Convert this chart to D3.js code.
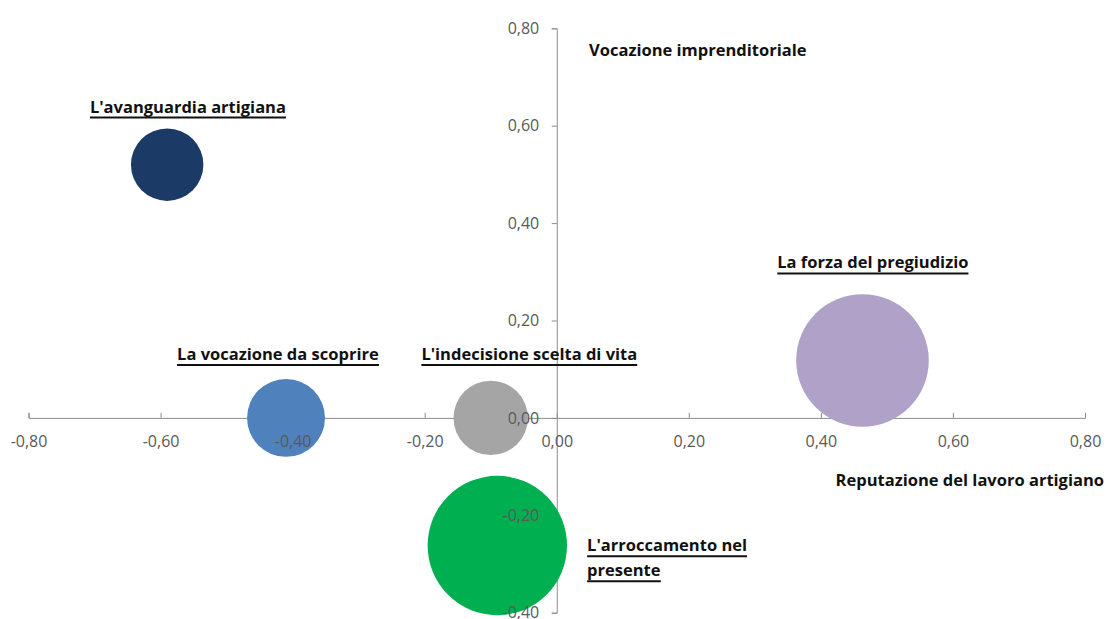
<!DOCTYPE html>
<html>
<head>
<meta charset="utf-8">
<script src="https://cdn.jsdelivr.net/npm/d3@7"></script>
<style>
  body { margin: 0; background: #fff; }
  svg { display: block; }
  .tick text { font-family: "Open Sans", sans-serif; font-size: 16px; fill: #595959; }
  .lbl { font-family: "Open Sans", sans-serif; font-weight: bold; font-size: 16.5px; fill: #111; }
</style>
</head>
<body>
<div id="chart"></div>
<script>
// cluster data
var clusters = ["L'avanguardia artigiana", "La vocazione da scoprire", "L'indecisione scelta di vita", "La forza del pregiudizio", "L'arroccamento nel presente"];
var xValues = [-0.59, -0.41, -0.10, 0.463, -0.09];
var yValues = [0.52, 0.00, 0.00, 0.118, -0.262];
var sizes = [10.8, 12.5, 11.4, 36.2, 40.0];
var colors = ["#1b3a66", "#4f81bd", "#a5a5a5", "#b0a1c8", "#00b050"];

var xTicks = [-0.8, -0.6, -0.4, -0.2, 0, 0.2, 0.4, 0.6, 0.8];
var yTicks = [-0.4, -0.2, 0, 0.2, 0.4, 0.6, 0.8];

var xTitle = "Reputazione del lavoro artigiano";
var yTitle = "Vocazione imprenditoriale";

// label placement (data coords of the text baseline, left edge) - kept apart from data
var labelPos = [
	{x: -0.707, y: 0.627, lines: ["L'avanguardia artigiana"]},
	{x: -0.575, y: 0.119, lines: ["La vocazione da scoprire"]},
	{x: -0.205, y: 0.119, lines: ["L'indecisione scelta di vita"]},
	{x: 0.334, y: 0.307, lines: ["La forza del pregiudizio"]},
	{x: 0.046, y: -0.274, lines: ["L'arroccamento nel", "presente"]}
];

var W = 1109, H = 619;
var svg = d3.select("#chart").append("svg")
	.attr("width", W)
	.attr("height", H);

var x = d3.scaleLinear().domain([-0.8, 0.8]).range([28.5, 1085]);
var y = d3.scaleLinear().domain([-0.4, 0.8]).range([612.7, 28.3]);
var r = d3.scaleSqrt().domain([0, 40]).range([0, 69.7]);

var loc = d3.formatLocale({decimal: ",", thousands: ".", grouping: [3], currency: ["", "€"], minus: "-"});
var fmt = loc.format(".2f");

// axis lines first (no labels)
var xAxisLines = svg.append("g")
	.attr("transform", "translate(0," + y(0) + ")")
	.call(d3.axisTop(x).tickValues(xTicks).tickSize(5).tickFormat(""));
var yAxisLines = svg.append("g")
	.attr("transform", "translate(" + x(0) + ",0)")
	.call(d3.axisLeft(y).tickValues(yTicks).tickSize(5).tickFormat(""));
svg.selectAll(".domain, .tick line").attr("stroke", "#8c8c8c");

// bubbles
var pts = clusters.map(function(c, i){
	return {name: c, x: xValues[i], y: yValues[i], s: sizes[i], c: colors[i]};
});
svg.selectAll("circle").data(pts)
	.enter().append("circle")
	.attr("cx", function(d){ return x(d.x); })
	.attr("cy", function(d){ return y(d.y); })
	.attr("r", function(d){ return r(d.s); })
	.style("fill", function(d){ return d.c; });

// tick labels on top of bubbles
var xAxisText = svg.append("g")
	.attr("transform", "translate(0," + y(0) + ")")
	.call(d3.axisBottom(x).tickValues(xTicks).tickSize(0).tickPadding(18).tickFormat(fmt));
var yAxisText = svg.append("g")
	.attr("transform", "translate(" + x(0) + ",0)")
	.call(d3.axisLeft(y).tickValues(yTicks).tickSize(0).tickPadding(17.5).tickFormat(fmt));
xAxisText.select(".domain").remove();
yAxisText.select(".domain").remove();
xAxisText.selectAll("text").attr("font-family", null).attr("font-size", null);
yAxisText.selectAll("text").attr("font-family", null).attr("font-size", null);

// bubble labels, bold + underlined
labelPos.forEach(function(p){
	p.lines.forEach(function(t, j){
		var base = y(p.y) + j * 25;
		var tx = svg.append("text")
			.attr("class", "lbl")
			.attr("x", x(p.x))
			.attr("y", base)
			.text(t);
		var bb = tx.node().getBBox();
		svg.append("line")
			.attr("x1", bb.x).attr("x2", bb.x + bb.width)
			.attr("y1", base + 5).attr("y2", base + 5)
			.attr("stroke", "#111").attr("stroke-width", 2);
	});
});

// axis titles
svg.append("text").attr("class", "lbl")
	.attr("x", 589).attr("y", 56)
	.text(yTitle);
svg.append("text").attr("class", "lbl")
	.attr("x", 1104).attr("y", 486)
	.attr("text-anchor", "end")
	.text(xTitle);
</script>
</body>
</html>
